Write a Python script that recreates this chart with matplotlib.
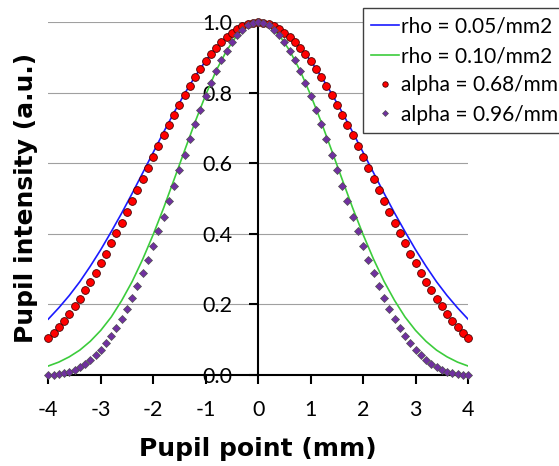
import numpy as np
import matplotlib
matplotlib.use('Agg')
import matplotlib.pyplot as plt

plt.rcParams['font.family'] = ['Lato', 'DejaVu Sans']
plt.rcParams['axes.unicode_minus'] = False

# lines (step 0.2 mm)
x_line = np.linspace(-4, 4, 41)
rho_005 = [0.158, 0.190, 0.225, 0.264, 0.308, 0.355, 0.406, 0.459, 0.515, 0.573,
           0.631, 0.689, 0.745, 0.798, 0.847, 0.891, 0.929, 0.959, 0.982, 0.995,
           1.000,
           0.995, 0.982, 0.959, 0.929, 0.891, 0.847, 0.798, 0.745, 0.689, 0.631,
           0.573, 0.515, 0.459, 0.406, 0.355, 0.308, 0.264, 0.225, 0.190, 0.158]
rho_010 = [0.025, 0.036, 0.051, 0.070, 0.095, 0.126, 0.164, 0.211, 0.265, 0.328,
           0.398, 0.474, 0.555, 0.637, 0.718, 0.794, 0.863, 0.920, 0.964, 0.991,
           1.000,
           0.991, 0.964, 0.920, 0.863, 0.794, 0.718, 0.637, 0.555, 0.474, 0.398,
           0.328, 0.265, 0.211, 0.164, 0.126, 0.095, 0.070, 0.051, 0.036, 0.025]

# markers (step 0.1 mm)
x_dots = np.linspace(-4, 4, 81)
alpha_068 = [0.103, 0.118, 0.135, 0.154, 0.173, 0.194, 0.216, 0.240, 0.264, 0.290,
             0.316, 0.344, 0.373, 0.402, 0.432, 0.462, 0.493, 0.524, 0.555, 0.587,
             0.618, 0.649, 0.679, 0.709, 0.738, 0.766, 0.794, 0.820, 0.845, 0.868,
             0.890, 0.910, 0.928, 0.945, 0.959, 0.971, 0.982, 0.990, 0.995, 0.999,
             1.000,
             0.999, 0.995, 0.990, 0.982, 0.971, 0.959, 0.945, 0.928, 0.910, 0.890,
             0.868, 0.845, 0.820, 0.794, 0.766, 0.738, 0.709, 0.679, 0.649, 0.618,
             0.587, 0.555, 0.524, 0.493, 0.462, 0.432, 0.402, 0.373, 0.344, 0.316,
             0.290, 0.264, 0.240, 0.216, 0.194, 0.173, 0.154, 0.135, 0.118, 0.103]
alpha_096 = [0.000, 0.000, 0.002, 0.004, 0.008, 0.014, 0.021, 0.030, 0.041, 0.055,
             0.071, 0.089, 0.110, 0.133, 0.159, 0.188, 0.219, 0.253, 0.288, 0.326,
             0.366, 0.407, 0.449, 0.493, 0.537, 0.581, 0.625, 0.668, 0.711, 0.752,
             0.791, 0.827, 0.861, 0.892, 0.920, 0.944, 0.964, 0.979, 0.991, 0.998,
             1.000,
             0.998, 0.991, 0.979, 0.964, 0.944, 0.920, 0.892, 0.861, 0.827, 0.791,
             0.752, 0.711, 0.668, 0.625, 0.581, 0.537, 0.493, 0.449, 0.407, 0.366,
             0.326, 0.288, 0.253, 0.219, 0.188, 0.159, 0.133, 0.110, 0.089, 0.071,
             0.055, 0.041, 0.030, 0.021, 0.014, 0.008, 0.004, 0.002, 0.000, 0.000]

fig = plt.figure(figsize=(5.59, 4.66), dpi=100)
ax = fig.add_axes([0.0864, 0.1957, 0.7508, 0.7564])

ax.plot(x_line, rho_005, color='#1a1aff', lw=1.2, label='rho = 0.05/mm2', zorder=3)
ax.plot(x_line, rho_010, color='#3ccc3c', lw=1.2, label='rho = 0.10/mm2', zorder=3)
ax.plot(x_dots, alpha_068, 'o', ms=5.6, mfc='#ff0000', mec='#4a0000', mew=0.6,
        label='alpha = 0.68/mm', zorder=4, clip_on=False)
ax.plot(x_dots, alpha_096, 'D', ms=4.3, mfc='#7030a0', mec='#505050', mew=0.5,
        label='alpha = 0.96/mm', zorder=5, clip_on=False)

ax.set_xlim(-4, 4)
ax.set_ylim(0, 1)
ax.set_xticks(range(-4, 5))
ax.set_yticks([0, 0.2, 0.4, 0.6, 0.8, 1.0])
ax.set_yticklabels(['0.0', '0.2', '0.4', '0.6', '0.8', '1.0'])
ax.grid(axis='y', color='#a0a0a0', lw=0.8)
ax.set_axisbelow(True)

ax.spines['left'].set_position(('data', 0))
ax.spines['right'].set_visible(False)
ax.spines['top'].set_visible(False)
for s in ['left', 'bottom']:
    ax.spines[s].set_linewidth(1.5)
    ax.spines[s].set_color('black')
ax.tick_params(axis='both', direction='out', length=6.5, width=1.5, pad=12,
               labelsize=15.5, colors='black')

fig.text(258 / 559, 1 - 449 / 466, 'Pupil point (mm)', ha='center', va='center',
         fontsize=18, fontweight='bold', family='DejaVu Sans')
fig.text(26 / 559, 1 - 198 / 466, 'Pupil intensity (a.u.)', ha='center', va='center',
         rotation=90, fontsize=18, fontweight='bold', family='DejaVu Sans')

leg = fig.legend(loc='upper left', bbox_to_anchor=(362.7 / 559, 1 - 8.3 / 466),
                 fontsize=15, handlelength=1.35, handletextpad=0.1, labelspacing=0.45,
                 borderpad=0.4, borderaxespad=0, markerscale=0.7, fancybox=False,
                 framealpha=1, edgecolor='#404040')
leg.get_frame().set_linewidth(1.0)

fig.savefig('out.png', dpi=100)
